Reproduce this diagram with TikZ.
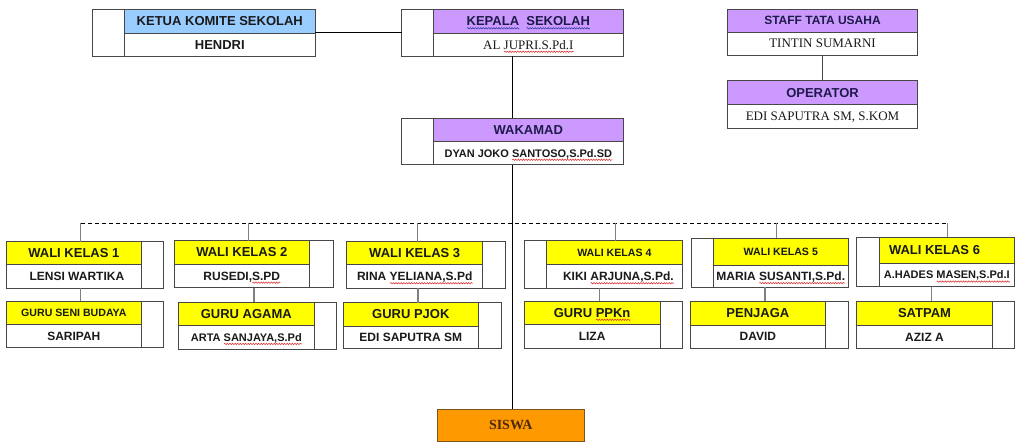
\documentclass[tikz,border=0pt]{standalone}
\usepackage{fontspec}
\setmainfont{Liberation Serif}
\setsansfont{Liberation Sans}
\usetikzlibrary{fit,decorations.pathmorphing}
\definecolor{bd}{HTML}{474747}
\definecolor{pur}{HTML}{CC99FF}
\definecolor{blu}{HTML}{99CCFF}
\definecolor{yel}{HTML}{FFFF00}
\definecolor{org}{HTML}{FF9900}
\definecolor{orgbd}{HTML}{7A5520}
\definecolor{navy}{HTML}{1E1A4A}
\definecolor{ink}{HTML}{1A1A1A}
\definecolor{brn}{HTML}{4A2A0A}
\definecolor{wred}{HTML}{E03030}
\definecolor{wblue}{HTML}{3040A0}
\newsavebox\wvbox
\newcommand\wv[2]{%
  \sbox\wvbox{#2}%
  \usebox\wvbox\llap{\raisebox{-2.6pt}{\makebox[\wd\wvbox][l]{\tikz[x=1pt,y=1pt,baseline=0pt]\draw[#1, line width=0.55pt, decorate, decoration={snake, amplitude=0.7pt, segment length=2.6pt}] (0,0) -- (\the\wd\wvbox,0);}}}}
\newcommand\rwave[1]{\wv{wred}{#1}}
\newcommand\bwave[1]{\wv{wblue}{#1}}
% #1 name #2 x1 #3 xa #4 xb #5 x2 #6 y1 #7 ym #8 y2 #9 fill
\newcommand\obox[9]{%
  \node[frame, fit={(#2,#6)(#5,#8)}] (#1) {};
  \node[frame, fill=#9, fit={(#3,#6)(#4,#7)}] (#1h) {};
  \node[frame, fit={(#3,#7)(#4,#8)}] (#1b) {};}
\begin{document}
\begin{tikzpicture}[x=1pt,y=-1pt,
  frame/.style={draw=bd, line width=0.9pt, inner sep=0pt, outer sep=0pt, fill=white},
  txt/.style={inner sep=0pt, text depth=0pt, text=ink},
  a13/.style={txt, font=\sffamily\bfseries\fontsize{13}{15}\selectfont},
  a12/.style={txt, font=\sffamily\bfseries\fontsize{12}{14}\selectfont},
  a11/.style={txt, font=\sffamily\bfseries\fontsize{11}{13}\selectfont},
  a105/.style={txt, font=\sffamily\bfseries\fontsize{10.6}{12}\selectfont},
  t13/.style={txt, font=\rmfamily\fontsize{13}{15}\selectfont},
  conn/.style={draw=black, line width=1.1pt},
  gconn/.style={draw=gray, line width=1.4pt},
  bus/.style={draw=black, line width=0.8pt, dash pattern=on 4pt off 3pt}]
\path[use as bounding box, fill=white] (0,0) rectangle (1024,447);

% boxes
\obox{kt}{92}{124.6}{315}{315}{9.3}{33}{56.3}{blu}
\obox{kp}{401.7}{433}{623.6}{623.6}{9.3}{33}{56.3}{pur}
\obox{wk}{401.7}{433}{623.6}{623.6}{118}{141.7}{164.7}{pur}
\obox{st}{727.7}{727.7}{917.3}{917.3}{9.3}{32.3}{55}{pur}
\obox{op}{727.7}{727.7}{917.3}{917.3}{80.7}{104.3}{128.3}{pur}

\obox{w1}{6}{6}{141.7}{163.3}{241.7}{264.3}{288.3}{yel}
\obox{gs}{6}{6}{141.7}{163.3}{301}{324.3}{347.7}{yel}
\obox{w2}{174.3}{174.3}{309.3}{333.3}{240.7}{264}{287.7}{yel}
\obox{ga}{178.3}{178.3}{314.3}{336}{302.3}{325.7}{349}{yel}
\obox{w3}{346.7}{346.7}{482.7}{505}{241.7}{264.3}{288.3}{yel}
\obox{pj}{343.3}{343.3}{478.3}{501}{302.7}{326}{348.7}{yel}
\obox{w4}{524.3}{546.7}{682}{682}{240.7}{264.3}{288.3}{yel}
\obox{pp}{524.3}{524.3}{660}{682.3}{301}{324.3}{348.3}{yel}
\obox{w5}{691}{713.3}{848.3}{848.3}{238.3}{265}{287.3}{yel}
\obox{pe}{690}{690}{825.7}{848.3}{301}{325}{348.3}{yel}
\obox{w6}{856.7}{879.3}{1014.3}{1014.3}{237.3}{263.3}{286.7}{yel}
\obox{sa}{856.7}{856.7}{992.3}{1014.3}{301}{325.7}{348.3}{yel}

\node[frame, draw=orgbd, fill=org, fit={(437.3,409)(584.3,441)}] (sw) {};

% connectors
\coordinate (busy) at (0,223.3);
\draw[conn] (kt.east) -- (kp.west);
\draw[conn] (kp.south) -- (wk.north);
\draw[conn] (wk.south) -- (wk.south |- sw.north);
\draw[conn, draw=bd] (st.south) -- (op.north);
\draw[bus] ([xshift=-3.9pt]w1.north |- busy) -- ([xshift=11.8pt]w6.north |- busy);
\draw[gconn] ([xshift=-3.9pt]w1.north) -- ([xshift=-3.9pt]w1.north |- busy);
\draw[gconn] ([xshift=-5.5pt]w2.north) -- ([xshift=-5.5pt]w2.north |- busy);
\draw[gconn] ([xshift=-8.5pt]w3.north) -- ([xshift=-8.5pt]w3.north |- busy);
\draw[gconn] ([xshift=12.5pt]w4.north) -- ([xshift=12.5pt]w4.north |- busy);
\draw[gconn] ([xshift=7pt]w5.north) -- ([xshift=7pt]w5.north |- busy);
\draw[gconn] ([xshift=11.8pt]w6.north) -- ([xshift=11.8pt]w6.north |- busy);
\draw[gconn] ([xshift=-3.9pt]w1.south) -- ([xshift=-3.9pt]w1.south |- gs.north);
\draw[gconn] ([xshift=0.2pt]w2.south) -- ([xshift=0.2pt]w2.south |- ga.north);
\draw[gconn] ([xshift=-7.8pt]w3.south) -- ([xshift=-7.8pt]w3.south |- pj.north);
\draw[gconn] ([xshift=-3.8pt]w4.south) -- ([xshift=-3.8pt]w4.south |- pp.north);
\draw[gconn] ([xshift=-4.6pt]w5.south) -- ([xshift=-4.6pt]w5.south |- pe.north);
\draw[gconn] ([xshift=-3.8pt]w6.south) -- ([xshift=-3.8pt]w6.south |- sa.north);

% texts
\node[a13] (ktht) at (kth) {KETUA KOMITE SEKOLAH};
\node[a13] (ktbt) at (ktb) {HENDRI};
\node[a13, text=navy] (kpht) at (kph) {\bwave{KEPALA}\hspace{7.2pt}\bwave{SEKOLAH}};
\node[t13] (kpbt) at (kpb) {AL \rwave{JUPRI.S.Pd.I}};
\node[a13, text=navy] (wkht) at (wkh) {WAKAMAD};
\node[a11] (wkbt) at (wkb) {DYAN JOKO \rwave{SANTOSO,S.Pd.SD}};
\node[a12, text=navy] (stht) at (sth) {STAFF TATA USAHA};
\node[t13] (stbt) at (stb) {TINTIN SUMARNI};
\node[a13, text=navy] (opht) at (oph) {OPERATOR};
\node[t13] (opbt) at (opb) {EDI SAPUTRA SM, S.KOM};

\node[a13] (w1ht) at (w1h) {WALI KELAS 1};
\node[a12] (w1bt) at ([xshift=3pt]w1b.center) {LENSI WARTIKA};
\node[a105] (gsht) at (gsh) {GURU SENI BUDAYA};
\node[a12] (gsbt) at (gsb) {SARIPAH};
\node[a13] (w2ht) at (w2h) {WALI KELAS 2};
\node[a12] (w2bt) at (w2b) {RUSEDI,\rwave{S.PD}};
\node[a13] (gaht) at (gah) {GURU AGAMA};
\node[a11] (gabt) at (gab) {ARTA \rwave{SANJAYA,S.Pd}};
\node[a13] (w3ht) at (w3h) {WALI KELAS 3};
\node[a12] (w3bt) at (w3b) {RINA \rwave{YELIANA,S.Pd}};
\node[a13] (pjht) at (pjh) {GURU PJOK};
\node[a12] (pjbt) at (pjb) {EDI SAPUTRA SM};
\node[a105] (w4ht) at (w4h) {WALI KELAS 4};
\node[a12] (w4bt) at ([xshift=4pt]w4b.center) {KIKI \rwave{ARJUNA,S.Pd.}};
\node[a13] (ppht) at (pph) {GURU \rwave{PPKn}};
\node[a12] (ppbt) at (ppb) {LIZA};
\node[a105] (w5ht) at (w5h) {WALI KELAS 5};
\node[a12] (w5bt) at (w5b) {MARIA \rwave{SUSANTI,S.Pd.}};
\node[a13] (peht) at (peh) {PENJAGA};
\node[a12] (pebt) at (peb) {DAVID};
\node[a13] (w6ht) at ([xshift=-12.3pt]w6h.center) {WALI KELAS 6};
\node[a11] (w6bt) at (w6b) {A.HADES \rwave{MASEN,S.Pd.I}};
\node[a13] (saht) at (sah) {SATPAM};
\node[a12] (sabt) at (sab) {AZIZ A};

\node[txt, text=brn, font=\rmfamily\bfseries\fontsize{14}{16}\selectfont] (swt) at (sw) {SISWA};
\end{tikzpicture}
\end{document}
